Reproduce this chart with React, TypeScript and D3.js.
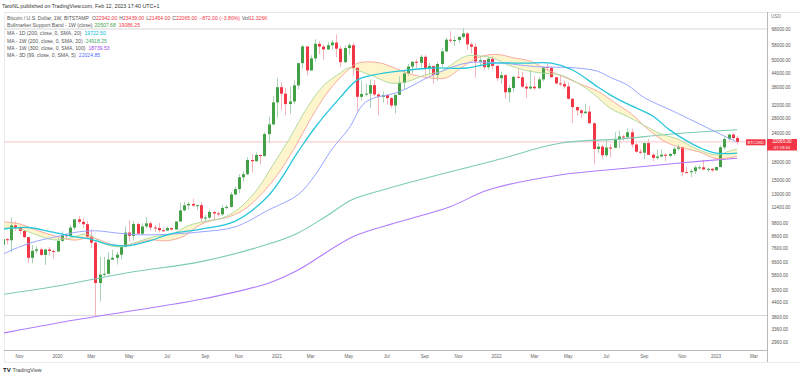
import React from "react";
import * as d3 from "d3";

// ---------- Weekly candles (BITSTAMP BTCUSD, 1W) ----------
const weekStarts: string[] = [
  "2019-09-30",
  "2019-10-07", "2019-10-14", "2019-10-21", "2019-10-28",
  "2019-11-04", "2019-11-11", "2019-11-18", "2019-11-25",
  "2019-12-02", "2019-12-09", "2019-12-16", "2019-12-23", "2019-12-30",
  "2020-01-06", "2020-01-13", "2020-01-20", "2020-01-27",
  "2020-02-03", "2020-02-10", "2020-02-17", "2020-02-24",
  "2020-03-02", "2020-03-09", "2020-03-16", "2020-03-23", "2020-03-30",
  "2020-04-06", "2020-04-13", "2020-04-20", "2020-04-27",
  "2020-05-04", "2020-05-11", "2020-05-18", "2020-05-25",
  "2020-06-01", "2020-06-08", "2020-06-15", "2020-06-22", "2020-06-29",
  "2020-07-06", "2020-07-13", "2020-07-20", "2020-07-27",
  "2020-08-03", "2020-08-10", "2020-08-17", "2020-08-24", "2020-08-31",
  "2020-09-07", "2020-09-14", "2020-09-21", "2020-09-28",
  "2020-10-05", "2020-10-12", "2020-10-19", "2020-10-26",
  "2020-11-02", "2020-11-09", "2020-11-16", "2020-11-23", "2020-11-30",
  "2020-12-07", "2020-12-14", "2020-12-21", "2020-12-28",
  "2021-01-04", "2021-01-11", "2021-01-18", "2021-01-25",
  "2021-02-01", "2021-02-08", "2021-02-15", "2021-02-22",
  "2021-03-01", "2021-03-08", "2021-03-15", "2021-03-22", "2021-03-29",
  "2021-04-05", "2021-04-12", "2021-04-19", "2021-04-26",
  "2021-05-03", "2021-05-10", "2021-05-17", "2021-05-24", "2021-05-31",
  "2021-06-07", "2021-06-14", "2021-06-21", "2021-06-28",
  "2021-07-05", "2021-07-12", "2021-07-19", "2021-07-26",
  "2021-08-02", "2021-08-09", "2021-08-16", "2021-08-23", "2021-08-30",
  "2021-09-06", "2021-09-13", "2021-09-20", "2021-09-27",
  "2021-10-04", "2021-10-11", "2021-10-18", "2021-10-25",
  "2021-11-01", "2021-11-08", "2021-11-15", "2021-11-22", "2021-11-29",
  "2021-12-06", "2021-12-13", "2021-12-20", "2021-12-27",
  "2022-01-03", "2022-01-10", "2022-01-17", "2022-01-24", "2022-01-31",
  "2022-02-07", "2022-02-14", "2022-02-21", "2022-02-28",
  "2022-03-07", "2022-03-14", "2022-03-21", "2022-03-28",
  "2022-04-04", "2022-04-11", "2022-04-18", "2022-04-25",
  "2022-05-02", "2022-05-09", "2022-05-16", "2022-05-23", "2022-05-30",
  "2022-06-06", "2022-06-13", "2022-06-20", "2022-06-27",
  "2022-07-04", "2022-07-11", "2022-07-18", "2022-07-25",
  "2022-08-01", "2022-08-08", "2022-08-15", "2022-08-22", "2022-08-29",
  "2022-09-05", "2022-09-12", "2022-09-19", "2022-09-26",
  "2022-10-03", "2022-10-10", "2022-10-17", "2022-10-24", "2022-10-31",
  "2022-11-07", "2022-11-14", "2022-11-21", "2022-11-28",
  "2022-12-05", "2022-12-12", "2022-12-19", "2022-12-26",
  "2023-01-02", "2023-01-09", "2023-01-16", "2023-01-23", "2023-01-30",
  "2023-02-06",
];

const opens: number[] = [
  8050,
  7870, 8320, 8230, 9550,
  9310, 9040, 8490, 6900,
  7400, 7510, 7100, 7500, 7390,
  7350, 8180, 8650, 8600,
  9340, 10150, 9900, 9670,
  8540, 8030, 5360, 5830, 5880,
  6780, 6900, 7120, 7690,
  8890, 8600, 9680, 8790,
  9450, 9750, 9350, 9300, 9100,
  9070, 9300, 9170, 9930,
  11100, 11680, 11850, 11650, 11700,
  10250, 10330, 10930, 10770,
  10670, 11380, 11500, 13030,
  13750, 15480, 15960, 18400, 18180,
  19350, 19170, 23860, 26300,
  32800, 38200, 35800, 32250,
  33100, 38900, 48600, 57500,
  45200, 51000, 59000, 57400, 55800,
  58200, 59800, 56200, 49100,
  56600, 58200, 46400, 34700, 35700,
  35800, 39000, 35500, 34700,
  35300, 34250, 31800, 35400,
  39900, 43800, 47000, 49300, 48800,
  51800, 46000, 47250, 43200,
  48200, 54700, 61500, 61000,
  61300, 63300, 65500, 58700, 57300,
  49400, 50100, 46700, 50800,
  47300, 41800, 43100, 36300, 37900,
  42400, 42200, 38400, 37700,
  38400, 37800, 41300, 46800,
  46400, 42200, 39700, 39450,
  38500, 34000, 31300, 30300, 29450,
  29900, 26600, 20550, 21050,
  19300, 20850, 20800, 22600,
  23300, 23200, 24300, 21500, 20000,
  19800, 21800, 19400, 18800,
  19050, 19400, 19200, 19550, 20600,
  20900, 16300, 16280, 16450,
  17100, 17100, 16750, 16840,
  16600, 17150, 20900, 22700, 23750,
  22942,
];

const highs: number[] = [
  8550,
  8650, 8420, 10350, 9950,
  9500, 9100, 8500, 7850,
  7750, 7650, 7520, 7690, 7500,
  8450, 9000, 8750, 9600,
  10160, 10500, 10250, 9970,
  9180, 8200, 6950, 6980, 7300,
  7480, 7300, 7700, 9460,
  10050, 9950, 9850, 9750,
  10400, 9950, 9600, 9800, 9300,
  9450, 9350, 9950, 12000,
  12100, 12100, 12480, 11750, 12050,
  10600, 11180, 10990, 10950,
  11720, 11730, 13350, 14100,
  15960, 16500, 18950, 19500, 19900,
  19420, 24300, 28400, 34800,
  41950, 40100, 37850, 38500,
  40950, 49000, 58350, 57500,
  52600, 61800, 60600, 58400, 60200,
  61200, 64900, 57500, 58000,
  59600, 59600, 46600, 40900, 39500,
  41300, 41000, 36000, 36600,
  35300, 34600, 35000, 42600,
  44800, 48200, 49400, 50500, 52900,
  52900, 48800, 47350, 49200,
  56600, 62800, 67000, 63700,
  63400, 69000, 66300, 59800, 59200,
  51900, 50200, 51900, 52100,
  47600, 44500, 43500, 38900, 42700,
  45800, 44700, 39800, 45400,
  42600, 42300, 46900, 48200,
  47100, 42400, 42900, 40800,
  40000, 34300, 31400, 30600, 32400,
  31700, 26900, 21800, 21500,
  22500, 21600, 24300, 24700,
  23700, 25200, 25200, 21900, 20600,
  21900, 22700, 19700, 20400,
  20500, 19700, 19700, 21000, 21500,
  21050, 17200, 16800, 17400,
  17400, 18400, 17000, 16950,
  17200, 21300, 23300, 23800, 24250,
  23439,
];

const lows: number[] = [
  7750,
  7800, 7900, 7300, 9050,
  8730, 8400, 6550, 6520,
  7200, 7050, 6430, 7100, 6850,
  7350, 8100, 8250, 8500,
  9150, 9700, 9300, 8450,
  7620, 3850, 4450, 5730, 5850,
  6750, 6450, 6800, 7660,
  8130, 8200, 8820, 8650,
  9300, 9100, 8950, 8900, 8950,
  9050, 9050, 9140, 9900,
  11000, 11150, 11500, 11150, 9880,
  9900, 10200, 10140, 10400,
  10530, 11200, 11400, 12900,
  13200, 14800, 15800, 16200, 18100,
  17600, 19000, 21800, 26100,
  28100, 30400, 28800, 29250,
  32300, 37400, 46000, 43000,
  45000, 49300, 53300, 50400, 55500,
  55500, 51500, 47000, 48700,
  53000, 42900, 30000, 33400, 34800,
  31000, 34800, 28800, 32700,
  32100, 31000, 29300, 35300,
  37500, 42800, 43900, 46400, 46600,
  42900, 43400, 39600, 40700,
  46900, 54200, 59500, 57800,
  59700, 62300, 55600, 53500, 42000,
  47100, 45500, 45600, 45700,
  40600, 39600, 34000, 32900, 36300,
  41700, 38000, 34300, 37400,
  37200, 37600, 40500, 45200,
  42100, 39200, 38600, 37600,
  33700, 26700, 28700, 28000, 29300,
  26550, 17600, 19700, 18600,
  19000, 18900, 20750, 20700,
  22400, 22700, 20800, 19800, 19500,
  18600, 19300, 18150, 18500,
  19000, 18200, 18900, 19200, 20200,
  15600, 16200, 15500, 16000,
  16700, 16600, 16300, 16300,
  16550, 17100, 20400, 22300, 22500,
  21454,
];

const closes: number[] = [
  7870,
  8320, 8230, 9550, 9310,
  9040, 8490, 6900, 7400,
  7510, 7100, 7500, 7390, 7350,
  8180, 8650, 8600, 9340,
  10150, 9900, 9670, 8540,
  8030, 5360, 5830, 5880, 6780,
  6900, 7120, 7690, 8890,
  8600, 9680, 8790, 9450,
  9750, 9350, 9300, 9100, 9070,
  9300, 9170, 9930, 11100,
  11680, 11850, 11650, 11700, 10250,
  10330, 10930, 10770, 10670,
  11380, 11500, 13030, 13750,
  15480, 15960, 18400, 18180, 19350,
  19170, 23860, 26300, 32800,
  38200, 35800, 32250, 33100,
  38900, 48600, 57500, 45200,
  51000, 59000, 57400, 55800, 58200,
  59800, 56200, 49100, 56600,
  58200, 46400, 34700, 35700, 35800,
  39000, 35500, 34700, 35300,
  34250, 31800, 35400, 39900,
  43800, 47000, 49300, 48800, 51800,
  46000, 47250, 43200, 48200,
  54700, 61500, 61000, 61300,
  63300, 65500, 58700, 57300, 49400,
  50100, 46700, 50800, 47300,
  41800, 43100, 36300, 37900, 42400,
  42200, 38400, 37700, 38400,
  37800, 41300, 46800, 46400,
  42200, 39700, 39450, 38500,
  34000, 31300, 30300, 29450, 29900,
  26600, 20550, 21050, 19300,
  20850, 20800, 22600, 23300,
  23200, 24300, 21500, 20000, 19800,
  21800, 19400, 18800, 19050,
  19400, 19200, 19550, 20600, 20900,
  16300, 16280, 16450, 17100,
  17100, 16750, 16840, 16600,
  17150, 20900, 22700, 23750, 22942,
  22065,
];

// ---------- Indicator lines (sampled values) ----------
// Bull market support band: 21W EMA (green) and 20W SMA (red)
const ema21W: [string, number][] = [
  ["2019-10-07", 9302], ["2019-11-04", 9224], ["2019-12-02", 8693], ["2019-12-30", 8265],
  ["2020-01-27", 8414], ["2020-02-24", 8760], ["2020-03-23", 7950], ["2020-04-20", 7699],
  ["2020-05-18", 8111], ["2020-06-15", 8536], ["2020-07-13", 8735], ["2020-08-10", 9521],
  ["2020-09-07", 9964], ["2020-10-05", 10277], ["2020-11-02", 11327], ["2020-11-30", 13471],
  ["2020-12-28", 17458], ["2021-01-25", 22896], ["2021-02-22", 30807], ["2021-03-22", 38774],
  ["2021-04-19", 44059], ["2021-05-03", 46381], ["2021-05-17", 45321], ["2021-06-14", 42533],
  ["2021-07-12", 39795], ["2021-08-09", 40488], ["2021-09-06", 43150], ["2021-10-04", 44902],
  ["2021-11-01", 50273], ["2021-11-15", 52297], ["2021-11-29", 52447], ["2021-12-27", 51251],
  ["2022-01-24", 47544], ["2022-02-21", 45141], ["2022-03-21", 43962], ["2022-04-18", 43234],
  ["2022-05-16", 40055], ["2022-06-13", 35683], ["2022-07-11", 30875], ["2022-08-08", 28509],
  ["2022-09-05", 26061], ["2022-10-03", 23876], ["2022-10-31", 22690], ["2022-11-28", 20748],
  ["2022-12-26", 19498], ["2023-01-09", 19432], ["2023-01-23", 20095], ["2023-02-06", 20508],
];
const sma20W: [string, number][] = [
  ["2019-10-07", 9900], ["2019-11-04", 9700], ["2019-12-02", 9100], ["2020-01-06", 8530],
  ["2020-02-03", 8240], ["2020-03-02", 8440], ["2020-04-13", 7800], ["2020-05-11", 7940],
  ["2020-06-08", 8250], ["2020-07-06", 8190], ["2020-08-03", 8580], ["2020-08-31", 9660],
  ["2020-09-28", 10160], ["2020-10-12", 10330], ["2020-11-09", 11130], ["2020-12-07", 12890],
  ["2021-01-04", 15770], ["2021-02-01", 20540], ["2021-03-01", 27870], ["2021-03-29", 36340],
  ["2021-04-26", 43900], ["2021-05-17", 48500], ["2021-06-21", 48900], ["2021-07-19", 46200],
  ["2021-08-16", 43400], ["2021-09-13", 42000], ["2021-10-11", 41900], ["2021-11-08", 46900],
  ["2021-12-06", 51700], ["2022-01-03", 53100], ["2022-01-31", 51300], ["2022-02-28", 49600],
  ["2022-03-28", 45500], ["2022-04-25", 42300], ["2022-05-23", 39300], ["2022-06-20", 36700],
  ["2022-07-18", 32700], ["2022-08-15", 29200], ["2022-09-12", 24950], ["2022-10-10", 22100],
  ["2022-11-07", 20770], ["2022-12-05", 19980], ["2023-01-02", 18670], ["2023-02-06", 19086],
];
// MA 1D 200 (cyan)
const ma1D200: [string, number][] = [
  ["2019-10-07", 9200], ["2019-11-18", 9350], ["2019-12-23", 9000], ["2020-01-27", 8600],
  ["2020-03-02", 8300], ["2020-03-30", 7900], ["2020-05-04", 7800], ["2020-06-08", 8200],
  ["2020-07-13", 8800], ["2020-08-31", 9200], ["2020-10-26", 9950], ["2020-12-21", 12900],
  ["2021-02-08", 20000], ["2021-03-08", 25500], ["2021-04-19", 34500], ["2021-05-17", 41000],
  ["2021-06-14", 43200], ["2021-07-26", 44900], ["2021-09-20", 46300], ["2021-11-15", 46300],
  ["2021-12-27", 48500], ["2022-02-21", 48600], ["2022-04-04", 48600], ["2022-05-09", 45400],
  ["2022-06-20", 38300], ["2022-07-11", 35300], ["2022-08-08", 32300], ["2022-09-19", 28600],
  ["2022-10-17", 24900], ["2022-11-21", 21800], ["2022-12-12", 20500], ["2023-01-02", 19700],
  ["2023-02-06", 19722],
];
// MA 3D 99 (blue)
const ma3D99: [string, number][] = [
  ["2019-10-07", 7150], ["2019-11-04", 7700], ["2019-12-02", 8150], ["2020-01-06", 8550],
  ["2020-02-03", 8900], ["2020-03-09", 9050], ["2020-04-13", 8850], ["2020-05-18", 8700],
  ["2020-06-22", 8700], ["2020-07-27", 8800], ["2020-08-31", 8950], ["2020-10-26", 9400],
  ["2020-12-21", 11150], ["2021-02-08", 13000], ["2021-03-08", 15800], ["2021-04-05", 20500],
  ["2021-05-03", 25200], ["2021-05-31", 32900], ["2021-07-26", 36500], ["2021-09-20", 43170],
  ["2021-11-15", 48700], ["2022-01-10", 48700], ["2022-03-07", 47000], ["2022-05-16", 46300],
  ["2022-06-20", 44800], ["2022-07-11", 42100], ["2022-08-08", 39050], ["2022-09-05", 34400],
  ["2022-10-24", 29950], ["2022-12-26", 24870], ["2023-01-16", 23400], ["2023-02-06", 22025],
];
// MA 1W 200 (teal green)
const ma1W200: [string, number][] = [
  ["2019-10-07", 4780], ["2020-01-06", 5200], ["2020-05-04", 5960], ["2020-08-31", 6640],
  ["2020-12-21", 7920], ["2021-02-08", 8860], ["2021-03-22", 10290], ["2021-05-10", 12410],
  ["2021-06-28", 13620], ["2021-08-02", 14460], ["2021-10-04", 15980], ["2022-01-03", 18400],
  ["2022-04-18", 21770], ["2022-07-25", 22700], ["2022-10-03", 23650], ["2022-12-05", 24370],
  ["2023-02-06", 24918],
];
// MA 1W 300 (purple)
const ma1W300: [string, number][] = [
  ["2019-10-07", 3240], ["2020-01-06", 3590], ["2020-05-04", 4040], ["2020-08-31", 4550],
  ["2020-12-21", 5350], ["2021-02-08", 6100], ["2021-05-10", 8530], ["2021-07-26", 9900],
  ["2021-10-18", 11520], ["2021-12-20", 13620], ["2022-04-18", 15840], ["2022-08-01", 16900],
  ["2022-11-07", 17900], ["2023-02-06", 18740],
];

// ---------- Axis ticks ----------
const priceTicks: number[] = [68000, 58000, 50000, 44000, 38000, 32000, 28000, 24000, 18000, 15000,
  13000, 11400, 9800, 8600, 7600, 6600, 5800, 5000, 4400, 3800, 3360, 2960];
const timeTickDates: string[] = ["2019-11-04", "2020-01-06", "2020-03-02", "2020-05-04", "2020-07-06",
  "2020-09-07", "2020-11-02", "2021-01-04", "2021-03-01", "2021-05-03", "2021-07-05", "2021-09-06",
  "2021-11-01", "2022-01-03", "2022-03-07", "2022-05-02", "2022-07-04", "2022-09-05", "2022-11-07",
  "2023-01-02", "2023-03-06"];
const timeTickLabels: string[] = ["Nov", "2020", "Mar", "May", "Jul", "Sep", "Nov", "2021", "Mar", "May",
  "Jul", "Sep", "Nov", "2022", "Mar", "May", "Jul", "Sep", "Nov", "2023", "Mar"];

const athLevel = 68500;
const crashLowLevel = 3870;
const lastPrice = 22065;

const parse = (s: string) => new Date(s + "T00:00:00Z");

export default function App() {
  const PL = 4, PR = 767, PT = 12, PB = 350;
  const x = d3.scaleTime().domain([parse("2020-01-06"), parse("2023-01-02")]).range([57.5, 716]);
  const y = d3.scaleLog().domain([68000, 2960]).range([29.7, 342.2]);

  const line = d3.line<[string, number]>()
    .x((d) => x(parse(d[0])))
    .y((d) => y(d[1]))
    .curve(d3.curveCatmullRom.alpha(0.5));

  const bandPath = (line(ema21W) || "") + (line([...sma20W].reverse()) || "").replace(/^M/, "L") + "Z";

  const green = "#43a047";
  const red = "#f23645";
  const font = "'Liberation Sans', Arial, sans-serif";
  const fs = 5.1;
  const gray = "#555";

  const legendMA = [
    { label: "MA - 1D (200, close, 0, SMA, 20)", value: "19722.50", color: "#00bcd4", y: 33.5 },
    { label: "MA - 1W (200, close, 0, SMA, 20)", value: "24918.25", color: "#3fae6a", y: 40.7 },
    { label: "MA - 1W (300, close, 0, SMA, 100)", value: "18739.53", color: "#a24ef0", y: 47.9 },
    { label: "MA - 3D (99, close, 0, SMA, 5)", value: "22024.85", color: "#4e6ef2", y: 55.1 },
  ];

  return (
    <svg width={800} height={378} style={{ position: "absolute", left: 0, top: 0 }} fontFamily={font}>
      <rect width={800} height={378} fill="#ffffff" />
      <defs>
        <clipPath id="plotClip">
          <rect x={PL} y={PT} width={PR - PL} height={PB - PT} />
        </clipPath>
      </defs>

      {/* header */}
      <text x={2} y={8} fontSize={5.3} fill="#333">TaroNL published on TradingView.com, Feb 12, 2023 17:40 UTC+1</text>

      {/* pane borders */}
      <line x1={PL} x2={800} y1={PT + 0.5} y2={PT + 0.5} stroke="#e6e6e6" />
      <line x1={PL + 0.5} x2={PL + 0.5} y1={PT} y2={362} stroke="#ececec" />
      <line x1={PL} x2={800} y1={362.5} y2={362.5} stroke="#ececec" />

      <g clipPath="url(#plotClip)">
        {/* horizontal drawn levels */}
        <line x1={PL} x2={PR} y1={y(athLevel)} y2={y(athLevel)} stroke="#d6d6d6" strokeWidth={1} />
        <line x1={PL} x2={PR} y1={y(crashLowLevel)} y2={y(crashLowLevel)} stroke="#d6d6d6" strokeWidth={1} />
        <line x1={PL} x2={PR} y1={y(lastPrice)} y2={y(lastPrice)} stroke="#f7b3ba" strokeWidth={0.8} />

        {/* band fill */}
        <path d={bandPath} fill="#fff1b8" fillOpacity={0.7} stroke="none" />

        {/* candles */}
        {weekStarts.map((d, i) => {
          const o = opens[i], h = highs[i], l = lows[i], c = closes[i];
          const up = c >= o;
          const cx = Math.round(x(parse(d)));
          const yTop = y(Math.max(o, c));
          const yBot = y(Math.min(o, c));
          return (
            <g key={d}>
              <line x1={cx + 0.5} x2={cx + 0.5} y1={y(h)} y2={y(l)} stroke={up ? "#a9d3b4" : "#f7b3ba"} strokeWidth={1} />
              <rect x={cx - 1} y={yTop} width={3} height={Math.max(1, yBot - yTop)} fill={up ? green : red} />
            </g>
          );
        })}

        {/* long MAs */}
        <path d={line(ma1W300) || ""} fill="none" stroke="#b07cff" strokeWidth={1.1} />
        <path d={line(ma1W200) || ""} fill="none" stroke="#7ccbb4" strokeWidth={1.1} />
        {/* band lines */}
        <path d={line(sma20W) || ""} fill="none" stroke="#f5a39a" strokeWidth={0.9} />
        <path d={line(ema21W) || ""} fill="none" stroke="#a9d89a" strokeWidth={0.9} />
        {/* 3D 99 and 1D 200 */}
        <path d={line(ma3D99) || ""} fill="none" stroke="#98a6ff" strokeWidth={1} />
        <path d={line(ma1D200) || ""} fill="none" stroke="#26c6da" strokeWidth={1.3} />

        {/* symbol label on the price line */}
        <rect x={746} y={139.3} width={19.5} height={6} fill={red} />
        <text x={755.7} y={142.5} fontSize={4} fill="#fff" textAnchor="middle" dominantBaseline="middle">BTCUSD</text>
      </g>

      {/* legend */}
      <text x={7} y={19.5} fontSize={fs} fill={gray}>
        <tspan>Bitcoin / U.S. Dollar, 1W, BITSTAMP</tspan>
        <tspan dx={3}>O</tspan><tspan fill={red}>22942.00</tspan>
        <tspan dx={2}>H</tspan><tspan fill={red}>23439.00</tspan>
        <tspan dx={2}>L</tspan><tspan fill={red}>21454.00</tspan>
        <tspan dx={2}>C</tspan><tspan fill={red}>22065.00</tspan>
        <tspan dx={2} fill={red}>−872.00 (−3.80%)</tspan>
        <tspan dx={2}>Vol</tspan><tspan fill={red}>11.326K</tspan>
      </text>
      <text x={7} y={26.6} fontSize={fs} fill={gray}>
        <tspan>Bullmarket Support Band - 1W (close)</tspan>
        <tspan dx={2} fill={green}>20507.68</tspan>
        <tspan dx={3} fill={red}>19086.25</tspan>
      </text>
      {legendMA.map((m) => (
        <text key={m.label} x={7} y={m.y + 1.8} fontSize={fs} fill={gray}>
          <tspan>{m.label}</tspan>
          <tspan dx={3} fill={m.color}>{m.value}</tspan>
        </text>
      ))}

      {/* right price axis */}
      <line x1={PR + 0.5} x2={PR + 0.5} y1={PT} y2={362} stroke="#b8b8b8" strokeWidth={1} />
      <text x={771} y={17.5} fontSize={4.6} fill="#777">USD</text>
      {priceTicks.map((p) => (
        <text key={p} x={771.5} y={y(p) + 1.7} fontSize={4.6} fill="#555">{p.toFixed(2)}</text>
      ))}
      <rect x={767} y={139} width={30} height={11.5} fill={red} />
      <text x={782} y={143.2} fontSize={4.6} fill="#fff" textAnchor="middle">{lastPrice.toFixed(2)}</text>
      <text x={782} y={148.6} fontSize={4.2} fill="#fff" textAnchor="middle">07:19:54</text>

      {/* time axis */}
      <line x1={PL} x2={PR} y1={PB + 0.5} y2={PB + 0.5} stroke="#b8b8b8" strokeWidth={1} />
      {timeTickDates.map((d, i) => (
        <text key={d} x={x(parse(d))} y={357.5} fontSize={4.6} fill="#666" textAnchor="middle">{timeTickLabels[i]}</text>
      ))}

      {/* footer logo */}
      <text x={3} y={371.5} fontSize={6} fill="#131722" fontWeight="bold">TV</text>
      <text x={12.5} y={371.5} fontSize={5.3} fill="#444">TradingView</text>
    </svg>
  );
}
